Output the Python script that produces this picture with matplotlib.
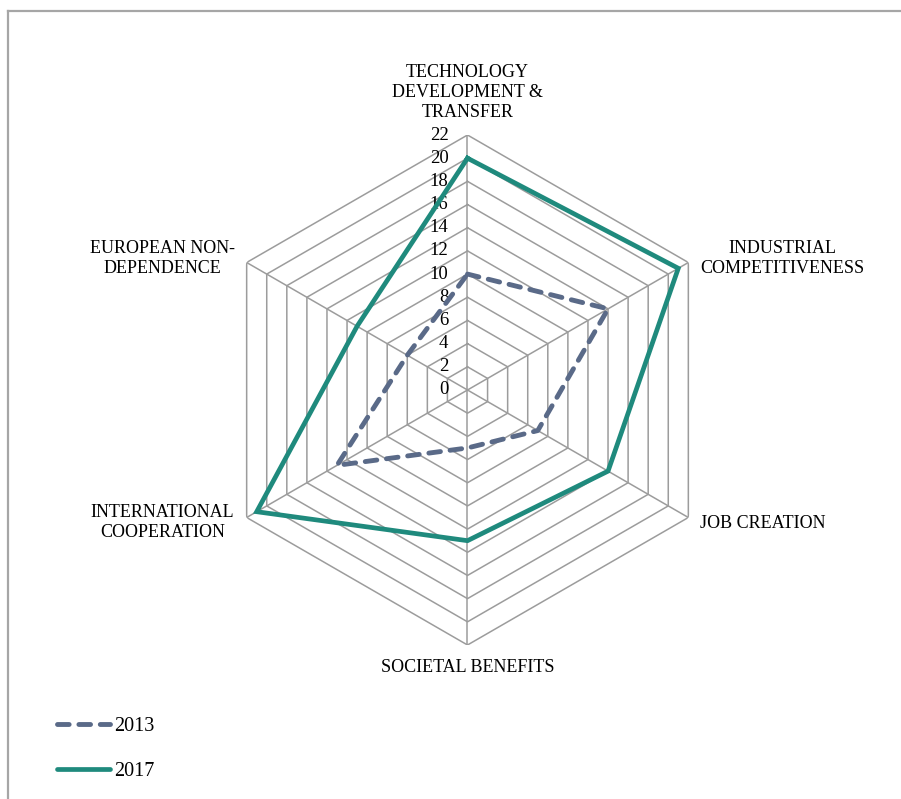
import numpy as np
import matplotlib.pyplot as plt
from matplotlib.lines import Line2D

# spoke labels, clockwise from the top
categories = ["TECHNOLOGY\nDEVELOPMENT &\nTRANSFER", "INDUSTRIAL\nCOMPETITIVENESS",
              "JOB CREATION", "SOCIETAL BENEFITS",
              "INTERNATIONAL\nCOOPERATION", "EUROPEAN NON-\nDEPENDENCE"]
scores_2013 = [10, 14, 7, 5, 13, 6]
scores_2017 = [20, 21, 14, 13, 21, 11]
ring_ticks = list(range(0, 23, 2))

plt.rcParams['font.family'] = ['Liberation Serif', 'DejaVu Serif']
plt.rcParams['font.size'] = 13

W, H = 901, 799
fig = plt.figure(figsize=(W / 100, H / 100), dpi=100)
cx, cy, R = 467.5, 390, 255
ax = fig.add_axes([(cx - R) / W, (H - cy - R) / H, 2 * R / W, 2 * R / H], polar=True)
ax.set_theta_offset(np.pi / 2)
ax.set_theta_direction(-1)
ax.set_ylim(0, ring_ticks[-1])
ax.grid(False)
ax.set_xticks([])
ax.set_yticks([])
ax.spines['polar'].set_visible(False)
ax.patch.set_visible(False)

n = len(categories)
theta = np.linspace(0, 2 * np.pi, n, endpoint=False)
theta_closed = np.append(theta, theta[0])

# hexagonal rings and spokes
grid_col = '#9c9c9c'
for r in ring_ticks[1:]:
    ax.plot(theta_closed, [r] * (n + 1), color=grid_col, lw=1.1, zorder=1)
for t in theta:
    ax.plot([t, t], [0, ring_ticks[-1]], color=grid_col, lw=1.1, zorder=1)

# value labels along the top spoke
for r in ring_ticks:
    ax.annotate(str(r), xy=(0, r), xytext=(-19, 0), textcoords='offset pixels',
                ha='right', va='center', fontsize=13.5)

c13 = '#5a6a88'
c17 = '#1f8a7d'
dash = (0, (2.4, 2.0))
ax.plot(theta_closed, scores_2013 + scores_2013[:1], color=c13, lw=3.5,
        linestyle=dash, dash_capstyle='round', solid_joinstyle='round',
        zorder=3, label='2013')
ax.plot(theta_closed, scores_2017 + scores_2017[:1], color=c17, lw=3.4,
        solid_joinstyle='miter', zorder=4, label='2017')

# category labels placed relative to the outer vertices
offsets = [(0, 42.5), (94, 4), (74, -6), (0, -23), (-84, -5), (-84, 4)]
for t, lab, off in zip(theta, categories, offsets):
    ax.annotate(lab, xy=(t, ring_ticks[-1]), xytext=off, textcoords='offset pixels',
                ha='center', va='center', linespacing=1.2, fontsize=13,
                annotation_clip=False)

leg = fig.legend(handles=[
    Line2D([], [], color=c13, lw=3.5, linestyle=dash, dash_capstyle='round'),
    Line2D([], [], color=c17, lw=3.4, solid_capstyle='round')],
    labels=['2013', '2017'], loc='upper left',
    bbox_to_anchor=(57 / W, 1 - 717 / H), frameon=False, fontsize=14.5,
    handlelength=2.65, handletextpad=0.2, labelspacing=1.3,
    borderpad=0, borderaxespad=0)

# outer chart frame
fig.add_artist(Line2D([7.5 / W, 7.5 / W], [0, 1 - 10.5 / H], color='#a6a6a6',
                      lw=1.6, transform=fig.transFigure))
fig.add_artist(Line2D([7.5 / W, 1], [1 - 10.5 / H, 1 - 10.5 / H], color='#a6a6a6',
                      lw=1.6, transform=fig.transFigure))

fig.savefig('out.png', dpi=100)
